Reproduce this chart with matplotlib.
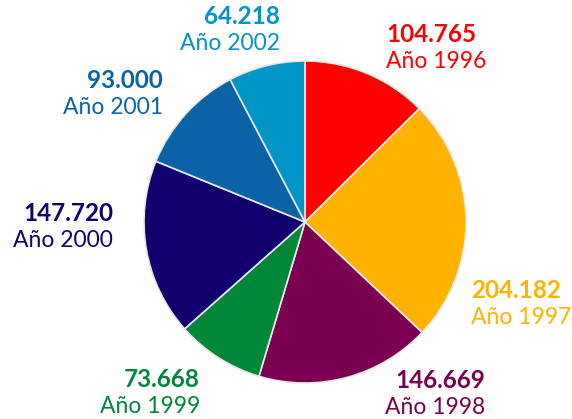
import matplotlib.pyplot as plt

# data
years = ["Año 1996", "Año 1997", "Año 1998", "Año 1999", "Año 2000", "Año 2001", "Año 2002"]
values = [104765, 204182, 146669, 73668, 147720, 93000, 64218]
value_labels = ["104.765", "204.182", "146.669", "73.668", "147.720", "93.000", "64.218"]
colors = ["#FF0000", "#FFB300", "#7B0052", "#00873A", "#12006E", "#0A63A6", "#0095C6"]

W, H = 572, 419
fig = plt.figure(figsize=(W / 100, H / 100), dpi=100)

# pie centred at (305, 222) px, radius ~161 px
cx, cy, r = 305, 222, 161
ax = fig.add_axes([(cx - r) / W, (H - cy - r) / H, 2 * r / W, 2 * r / H])
ax.pie(values, colors=colors, startangle=90, counterclock=False, radius=1,
       wedgeprops=dict(edgecolor="#e8e8e8", linewidth=1.2))
ax.set_xlim(-1, 1)
ax.set_ylim(-1, 1)
ax.set_aspect("equal")

# label anchors in pixels: (x, y of number line, alignment)
label_pos = [
    (386, 35, "left"),
    (471, 290, "left"),
    (485, 380, "right"),
    (200, 379, "right"),
    (113, 213, "right"),
    (163, 80, "right"),
    (280, 17, "right"),
]

for i in range(len(values)):
    x, y, ha = label_pos[i]
    fig.text(x / W, 1 - y / H, value_labels[i], ha=ha, va="center",
             fontsize=17.5, fontweight="bold", color=colors[i], family="Lato")
    fig.text(x / W, 1 - (y + 27) / H, years[i], ha=ha, va="center",
             fontsize=16.5, color=colors[i], family="Lato")

fig.savefig("out.png", dpi=100)
